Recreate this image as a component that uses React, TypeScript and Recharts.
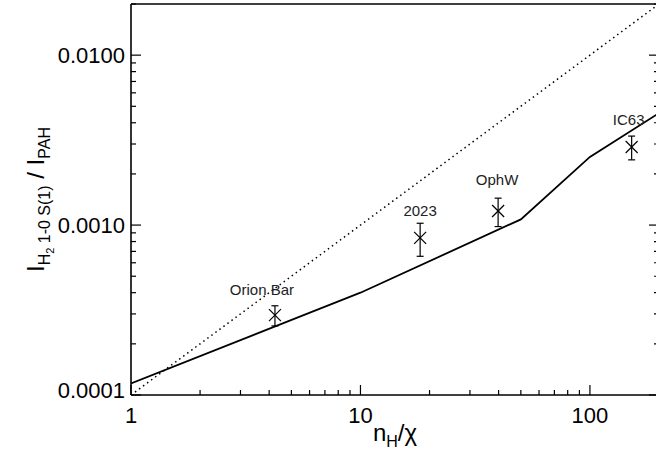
import { ComposedChart, Line, Scatter, ErrorBar, XAxis, YAxis } from 'recharts'

// model curve (solid) and the 1:1 reference (dotted)
const modelX = [1, 10, 50, 100, 200]
const modelY = [0.000117, 0.0004, 0.00108, 0.00252, 0.00456]
const unityX = [1, 200]
const unityY = [0.0001, 0.02]

// observed sources
const sourceNames = ['Orion Bar', '2023', 'OphW', 'IC63']
const sourceX = [4.24, 18.2, 39.8, 152]
const sourceY = [0.000295, 0.00084, 0.00121, 0.00288]
const sourceErr = [0.00004, 0.000185, 0.00023, 0.00046]

const xTicks = [1, 2, 3, 4, 5, 6, 7, 8, 9, 10, 20, 30, 40, 50, 60, 70, 80, 90, 100, 200]
const xMajor = [1, 10, 100]
const yTicks = [
  0.0001, 0.0002, 0.0003, 0.0004, 0.0005, 0.0006, 0.0007, 0.0008, 0.0009,
  0.001, 0.002, 0.003, 0.004, 0.005, 0.006, 0.007, 0.008, 0.009,
  0.01, 0.02,
]
const yMajor = [0.0001, 0.001, 0.01]

const modelData = modelX.map((x, i) => ({ x, y: modelY[i] }))
const unityData = unityX.map((x, i) => ({ x, y: unityY[i] }))
const sources = sourceNames.map((name, i) => ({
  name,
  x: sourceX[i],
  y: sourceY[i],
  err: sourceErr[i],
}))

// hand placement of the source labels, as in the original figure
const labelNudge: Record<string, [number, number]> = {
  'Orion Bar': [-13, 2],
  OphW: [-1, -4],
  IC63: [-3, 0],
}

const FONT = '"Liberation Sans", Arial, Helvetica, sans-serif'
const isMajor = (v: number, majors: number[]) => majors.some((m) => Math.abs(v / m - 1) < 1e-6)

function BottomTick({ x, y, payload }: any) {
  const major = isMajor(payload.value, xMajor)
  return (
    <g>
      <line x1={x} x2={x} y1={y} y2={y - (major ? 10 : 5)} stroke="#000" strokeWidth={1.2} />
      {major && (
        <text x={x} y={y + 28} textAnchor="middle" fontSize={22} fontFamily={FONT} fill="#000">
          {payload.value}
        </text>
      )}
    </g>
  )
}

function TopTick({ x, y, payload }: any) {
  const major = isMajor(payload.value, xMajor)
  return <line x1={x} x2={x} y1={y} y2={y + (major ? 10 : 5)} stroke="#000" strokeWidth={1.2} />
}

function LeftTick({ x, y, payload }: any) {
  const major = isMajor(payload.value, yMajor)
  // bottom label sits a little above the corner
  const lift = payload.value < 0.00015 ? -5 : 0
  return (
    <g>
      <line x1={x} x2={x + (major ? 10 : 5)} y1={y} y2={y} stroke="#000" strokeWidth={1.2} />
      {major && (
        <text x={x - 6} y={y + lift} dy="0.36em" textAnchor="end" fontSize={22} fontFamily={FONT} fill="#000">
          {payload.value.toFixed(4)}
        </text>
      )}
    </g>
  )
}

function RightTick({ x, y, payload }: any) {
  const major = isMajor(payload.value, yMajor)
  return <line x1={x} x2={x - (major ? 10 : 5)} y1={y} y2={y} stroke="#000" strokeWidth={1.2} />
}

function CrossMark({ cx, cy, payload }: any) {
  const s = 6
  const [dx, dy] = labelNudge[payload.name] || [0, 0]
  return (
    <g>
      <line x1={cx - s} y1={cy - s} x2={cx + s} y2={cy + s} stroke="#000" strokeWidth={1.2} />
      <line x1={cx - s} y1={cy + s} x2={cx + s} y2={cy - s} stroke="#000" strokeWidth={1.2} />
      <text x={cx + dx} y={cy - 22 + dy} textAnchor="middle" fontSize={15} fontFamily={FONT} fill="#222">
        {payload.name}
      </text>
    </g>
  )
}

function XTitle({ viewBox }: any) {
  const cx = viewBox.x + viewBox.width / 2
  return (
    <text x={cx} y={441} textAnchor="middle" fontSize={24} fontFamily={FONT} fill="#000">
      <tspan>n</tspan>
      <tspan fontSize={16} dy={6}>H</tspan>
      <tspan dy={-6}>/χ</tspan>
    </text>
  )
}

function YTitle({ viewBox }: any) {
  const cy = viewBox.y + viewBox.height / 2
  const cx = 44
  return (
    <text
      x={cx}
      y={cy}
      transform={`rotate(-90 ${cx} ${cy})`}
      textAnchor="middle"
      fontSize={24}
      fontFamily={FONT}
      fill="#000"
    >
      <tspan>I</tspan>
      <tspan fontSize={16} dy={6}>H</tspan>
      <tspan fontSize={11} dy={4}>2</tspan>
      <tspan fontSize={16} dy={-4}> 1-0 S(1)</tspan>
      <tspan dy={-6}> / I</tspan>
      <tspan fontSize={16} dy={6}>PAH</tspan>
    </text>
  )
}

export default function App() {
  return (
    <div
      style={{
        position: 'fixed',
        left: 0,
        top: 0,
        width: 656,
        height: 454,
        overflow: 'hidden',
        background: '#fff',
      }}
    >
      <ComposedChart width={670} height={454} margin={{ top: 0, right: 0, bottom: 0, left: 0 }}>
        <XAxis
          dataKey="x"
          type="number"
          scale="log"
          domain={[1, 200]}
          allowDataOverflow
          ticks={xTicks}
          interval={0}
          height={59}
          tickSize={0}
          tickMargin={0}
          tickLine={false}
          tick={<BottomTick />}
          axisLine={{ stroke: '#000', strokeWidth: 1.6 }}
          label={{ content: <XTitle /> }}
        />
        <XAxis
          xAxisId="top"
          orientation="top"
          type="number"
          scale="log"
          domain={[1, 200]}
          allowDataOverflow
          ticks={xTicks}
          interval={0}
          height={4}
          tickSize={0}
          tickMargin={0}
          tickLine={false}
          tick={<TopTick />}
          axisLine={{ stroke: '#000', strokeWidth: 1.6 }}
        />
        <YAxis
          dataKey="y"
          type="number"
          scale="log"
          domain={[0.0001, 0.02]}
          allowDataOverflow
          ticks={yTicks}
          interval={0}
          width={131}
          tickSize={0}
          tickMargin={0}
          tickLine={false}
          tick={<LeftTick />}
          axisLine={{ stroke: '#000', strokeWidth: 1.6 }}
          label={{ content: <YTitle /> }}
        />
        <YAxis
          yAxisId="right"
          orientation="right"
          type="number"
          scale="log"
          domain={[0.0001, 0.02]}
          allowDataOverflow
          ticks={yTicks}
          interval={0}
          width={11}
          tickSize={0}
          tickMargin={0}
          tickLine={false}
          tick={<RightTick />}
          axisLine={{ stroke: '#000', strokeWidth: 1.6 }}
        />
        <Line
          data={unityData}
          dataKey="y"
          type="linear"
          stroke="#000"
          strokeWidth={1.5}
          strokeDasharray="1.5 3.5"
          dot={false}
          activeDot={false}
          isAnimationActive={false}
        />
        <Line
          data={modelData}
          dataKey="y"
          type="linear"
          stroke="#000"
          strokeWidth={1.8}
          dot={false}
          activeDot={false}
          isAnimationActive={false}
        />
        <Scatter data={sources} dataKey="y" shape={<CrossMark />} isAnimationActive={false}>
          <ErrorBar dataKey="err" direction="y" width={3.5} stroke="#000" strokeWidth={1.2} />
        </Scatter>
      </ComposedChart>
    </div>
  )
}
